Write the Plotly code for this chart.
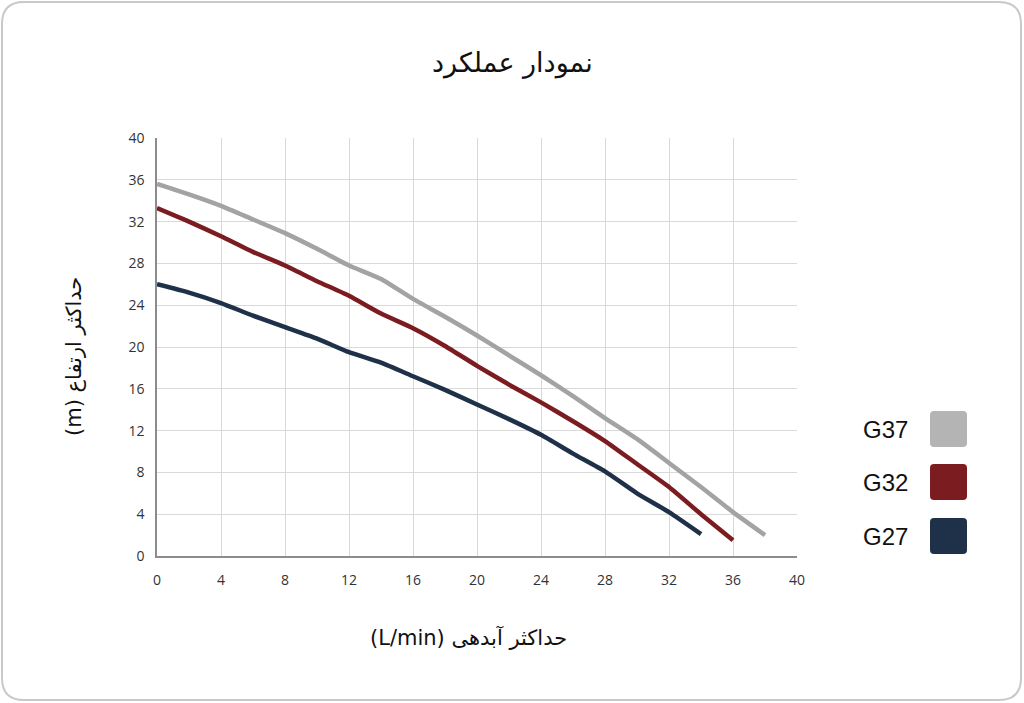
import plotly.graph_objects as go

# --- data ---
flow_g37 = [0, 2, 4, 6, 8, 10, 12, 14, 16, 18, 20, 22, 24, 26, 28, 30, 32, 34, 36, 38]
head_g37 = [35.6, 34.6, 33.5, 32.2, 30.9, 29.4, 27.8, 26.5, 24.6, 22.9, 21.1, 19.2,
            17.3, 15.3, 13.2, 11.2, 8.9, 6.6, 4.2, 2.0]

flow_g32 = [0, 2, 4, 6, 8, 10, 12, 14, 16, 18, 20, 22, 24, 26, 28, 30, 32, 34, 36]
head_g32 = [33.3, 32.0, 30.6, 29.1, 27.8, 26.3, 24.9, 23.2, 21.8, 20.1, 18.2, 16.4,
            14.7, 12.9, 11.0, 8.8, 6.6, 4.0, 1.5]

flow_g27 = [0, 2, 4, 6, 8, 10, 12, 14, 16, 18, 20, 22, 24, 26, 28, 30, 32, 34]
head_g27 = [26.0, 25.2, 24.2, 23.0, 21.9, 20.8, 19.5, 18.5, 17.2, 15.9, 14.5, 13.1,
            11.6, 9.8, 8.1, 6.0, 4.2, 2.1]

series_names = ["G37", "G32", "G27"]
line_colors = ["#A3A3A3", "#7B1C20", "#1F3149"]
swatch_colors = ["#B4B4B4", "#7B1C20", "#1E3149"]
tick_vals = list(range(0, 41, 4))

title_text = "نمودار عملکرد"
x_title = "\u202Bحداکثر آبدهی (L/min)\u202C"
y_title = "\u202Bحداکثر ارتفاع (m)\u202C"

W, H = 1024, 703
L, R, T, B = 157, 797, 138, 556   # plot area in pixels


def px(x):  # page pixel -> paper x
    return (x - L) / (R - L)


def py(y):  # page pixel -> paper y
    return (B - y) / (B - T)


def round_rect(x0, y0, x1, y1, r):
    return (f"M {px(x0 + r)},{py(y0)} L {px(x1 - r)},{py(y0)} "
            f"Q {px(x1)},{py(y0)} {px(x1)},{py(y0 + r)} "
            f"L {px(x1)},{py(y1 - r)} Q {px(x1)},{py(y1)} {px(x1 - r)},{py(y1)} "
            f"L {px(x0 + r)},{py(y1)} Q {px(x0)},{py(y1)} {px(x0)},{py(y1 - r)} "
            f"L {px(x0)},{py(y0 + r)} Q {px(x0)},{py(y0)} {px(x0 + r)},{py(y0)} Z")


fig = go.Figure()
for xs, ys, name, col in zip([flow_g37, flow_g32, flow_g27],
                             [head_g37, head_g32, head_g27],
                             series_names, line_colors):
    fig.add_trace(go.Scatter(x=xs, y=ys, name=name, mode="lines",
                             line=dict(color=col, width=4.5, shape="spline", smoothing=0.5),
                             showlegend=False))

shapes = [dict(type="path", xref="paper", yref="paper",
               path=round_rect(2, 2, 1021, 700, 22),
               line=dict(color="#C9C9C9", width=2), layer="below")]
annotations = [
    dict(text=title_text, x=px(512), y=py(63), xref="paper", yref="paper",
         xanchor="center", yanchor="middle", showarrow=False,
         font=dict(family="DejaVu Sans", size=27, color="#111111")),
    dict(text=x_title, x=px(468), y=py(637), xref="paper", yref="paper",
         xanchor="center", yanchor="middle", showarrow=False,
         font=dict(family="DejaVu Sans", size=21, color="#111111")),
    dict(text=y_title, x=px(74), y=py(357), xref="paper", yref="paper", textangle=-90,
         xanchor="center", yanchor="middle", showarrow=False,
         font=dict(family="DejaVu Sans", size=21, color="#111111")),
]

legend_y = [429, 482, 536]
for name, col, cy in zip(series_names, swatch_colors, legend_y):
    shapes.append(dict(type="path", xref="paper", yref="paper",
                       path=round_rect(930, cy - 18, 967, cy + 18, 4),
                       fillcolor=col, line=dict(width=0)))
    annotations.append(dict(text=name, x=px(910), y=py(cy), xref="paper", yref="paper",
                            xanchor="right", yanchor="middle", showarrow=False,
                            font=dict(family="Liberation Sans", size=24, color="#111111")))

fig.update_layout(
    width=W, height=H,
    margin=dict(l=L, r=W - R, t=T, b=H - B),
    paper_bgcolor="white", plot_bgcolor="white",
    shapes=shapes, annotations=annotations,
    xaxis=dict(range=[0, 40], tickvals=tick_vals, showgrid=True, gridcolor="#D9D9D9",
               gridwidth=1, zeroline=False, showline=True, linecolor="#8C8C8C", linewidth=1.5,
               ticks="", ticklabelstandoff=10,
               tickfont=dict(family="Open Sans", size=14, color="#333333")),
    yaxis=dict(range=[0, 40], tickvals=tick_vals, showgrid=True, gridcolor="#D9D9D9",
               gridwidth=1, zeroline=False, showline=True, linecolor="#8C8C8C", linewidth=1.5,
               ticks="", ticklabelstandoff=8,
               tickfont=dict(family="Open Sans", size=14, color="#333333")),
)

fig.write_html("out.html", config={"displayModeBar": False},
               post_script="document.body.style.margin='0';")
